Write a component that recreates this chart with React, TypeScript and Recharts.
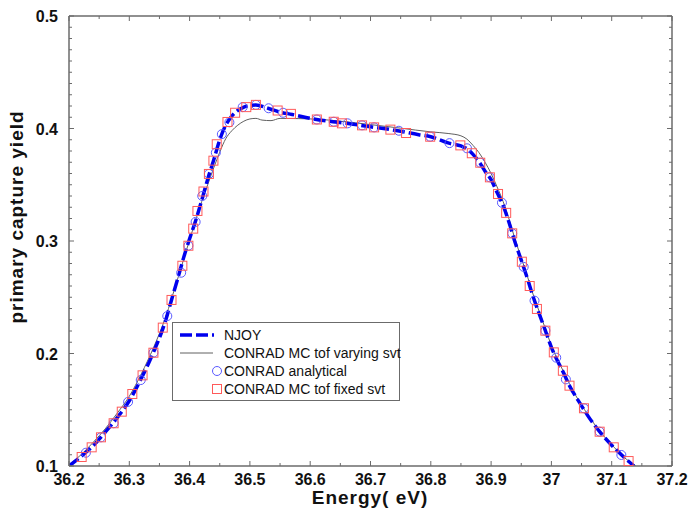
import {
  ComposedChart,
  Line,
  Scatter,
  XAxis,
  YAxis,
} from 'recharts';

// NJOY reference curve
const njoyEnergy = [
  36.2, 36.22, 36.24, 36.26, 36.28, 36.3, 36.32, 36.34, 36.36, 36.37, 36.38, 36.39, 36.4, 36.41,
  36.42, 36.43, 36.44, 36.45, 36.46, 36.47, 36.48, 36.49, 36.5, 36.51, 36.53, 36.55, 36.57, 36.6,
  36.63, 36.66, 36.7, 36.74, 36.78, 36.8, 36.83, 36.85, 36.86, 36.87, 36.88, 36.89, 36.9, 36.91,
  36.92, 36.93, 36.94, 36.95, 36.96, 36.97, 36.98, 36.99, 37.0, 37.01, 37.02, 37.03, 37.04, 37.05,
  37.06, 37.08, 37.1, 37.12, 37.137,
];
const njoyYield = [
  0.1, 0.1085, 0.118, 0.13, 0.143, 0.158, 0.178, 0.201, 0.229, 0.2476, 0.266, 0.285, 0.302, 0.318,
  0.336, 0.355, 0.372, 0.39, 0.403, 0.411, 0.416, 0.419, 0.4205, 0.421, 0.418, 0.4145, 0.4125, 0.409,
  0.4065, 0.4047, 0.4015, 0.3985, 0.3945, 0.3927, 0.387, 0.3845, 0.382, 0.377, 0.3705, 0.362, 0.3545, 0.343,
  0.3315, 0.316, 0.2985, 0.283, 0.267, 0.25, 0.235, 0.2203, 0.2055, 0.1935, 0.183, 0.1714, 0.162, 0.1535,
  0.145, 0.1305, 0.1185, 0.108, 0.1,
];

// CONRAD MC tof, varying svt (thin gray)
const varyEnergy = [
  36.2, 36.22, 36.24, 36.26, 36.28, 36.3, 36.32, 36.34, 36.36, 36.38, 36.4, 36.42, 36.43, 36.44,
  36.45, 36.46, 36.47, 36.48, 36.49, 36.5, 36.51, 36.52, 36.535, 36.55, 36.58, 36.61, 36.65, 36.7,
  36.75, 36.8, 36.83, 36.85, 36.86, 36.87, 36.88, 36.89, 36.9, 36.91, 36.92, 36.93, 36.94, 36.95,
  36.96, 36.97, 36.98, 36.99, 37.0, 37.02, 37.04, 37.06, 37.08, 37.1, 37.12, 37.14,
];
const varyYield = [
  0.101, 0.11, 0.121, 0.133, 0.147, 0.162, 0.182, 0.205, 0.232, 0.266, 0.301, 0.335, 0.35, 0.365,
  0.379, 0.391, 0.398, 0.403, 0.4065, 0.4085, 0.409, 0.4075, 0.407, 0.409, 0.4088, 0.4083, 0.4065, 0.4035,
  0.4003, 0.397, 0.3955, 0.3935, 0.3905, 0.385, 0.3785, 0.37, 0.36, 0.348, 0.335, 0.319, 0.301, 0.285,
  0.269, 0.252, 0.237, 0.222, 0.207, 0.184, 0.163, 0.146, 0.131, 0.119, 0.108, 0.1,
];

// CONRAD analytical (blue circles)
const analyticEnergy = [
  36.228, 36.253, 36.274, 36.298, 36.319, 36.34, 36.363, 36.386, 36.398, 36.41, 36.421, 36.432,
  36.4435, 36.4535, 36.466, 36.488, 36.51, 36.531, 36.555, 36.611, 36.639, 36.662, 36.686, 36.706,
  36.747, 36.799, 36.831, 36.86, 36.882, 36.898, 36.918, 36.935, 36.954, 36.972, 36.99, 37.008,
  37.024, 37.054, 37.08, 37.116,
];
const analyticYield = [
  0.1118, 0.1255, 0.138, 0.157, 0.1764, 0.2007, 0.2333, 0.2718, 0.2958, 0.317, 0.34, 0.3596,
  0.3785, 0.395, 0.4055, 0.419, 0.421, 0.418, 0.414, 0.408, 0.406, 0.4046, 0.4028, 0.401,
  0.398, 0.3927, 0.387, 0.3824, 0.3696, 0.3566, 0.334, 0.3068, 0.277, 0.247, 0.2203, 0.1963,
  0.177, 0.1513, 0.1305, 0.1098,
];

// CONRAD MC tof, fixed svt (red squares)
const fixedEnergy = [
  36.221, 36.2376, 36.253, 36.274, 36.2875, 36.305, 36.322, 36.34, 36.3555, 36.37, 36.388, 36.398,
  36.406, 36.413, 36.423, 36.432, 36.4395, 36.445, 36.4628, 36.4755, 36.494, 36.51, 36.546, 36.568,
  36.611, 36.639, 36.6526, 36.686, 36.706, 36.733, 36.759, 36.799, 36.849, 36.868, 36.882, 36.898,
  36.9115, 36.925, 36.935, 36.951, 36.964, 36.976, 36.99, 37.004, 37.019, 37.03, 37.054, 37.08,
  37.1034, 37.128,
];
const fixedYield = [
  0.108, 0.1166, 0.1255, 0.138, 0.1483, 0.164, 0.1806, 0.2007, 0.223, 0.2476, 0.278, 0.2958,
  0.311, 0.3267, 0.344, 0.3596, 0.3714, 0.386, 0.4058, 0.414, 0.419, 0.421, 0.416, 0.413,
  0.408, 0.406, 0.4046, 0.4028, 0.401, 0.399, 0.396, 0.3927, 0.385, 0.378, 0.3696, 0.3566,
  0.3418, 0.325, 0.3068, 0.2816, 0.26, 0.2396, 0.2203, 0.201, 0.1847, 0.1714, 0.1513, 0.1305,
  0.1166, 0.1044,
];

const xMajorTicks = [36.2, 36.3, 36.4, 36.5, 36.6, 36.7, 36.8, 36.9, 37, 37.1, 37.2];
const yMajorTicks = [0.1, 0.2, 0.3, 0.4, 0.5];

const zip = (xs: number[], ys: number[]) => xs.map((e, i) => ({ e, v: ys[i] }));
const njoy = zip(njoyEnergy, njoyYield);
const vary = zip(varyEnergy, varyYield);
const analytic = zip(analyticEnergy, analyticYield);
const fixed = zip(fixedEnergy, fixedYield);

// minor ticks: 0.05 eV on x, 0.01 on y
const xTicks: number[] = [];
for (let i = 0; i <= 20; i++) xTicks.push(Math.round((36.2 + i * 0.05) * 1000) / 1000);
const yTicks: number[] = [];
for (let i = 0; i <= 40; i++) yTicks.push(Math.round((0.1 + i * 0.01) * 1000) / 1000);

const isMajor = (v: number, list: number[]) => list.some((m) => Math.abs(m - v) < 1e-6);

const FONT = '"Liberation Sans", Arial, Helvetica, sans-serif';
const AXIS = '#6b6b6b';
const BLUE = '#0000ee';
const GRAY = '#606060';
const CIRCLE = '#5a5aff';
const SQUARE = '#ff5a5a';

const fmtX = (v: number) => String(Number(v.toFixed(2)));

function BottomTick({ x, y, payload }: any) {
  const major = isMajor(payload.value, xMajorTicks);
  return (
    <g>
      <line x1={x} x2={x} y1={y} y2={y - (major ? 5 : 3)} stroke={AXIS} strokeWidth={1} />
      {major && (
        <text x={x} y={y + 19} textAnchor="middle" fontFamily={FONT} fontWeight="bold" fontSize={16} fill="#111">
          {fmtX(payload.value)}
        </text>
      )}
    </g>
  );
}

function TopTick({ x, y, payload }: any) {
  const major = isMajor(payload.value, xMajorTicks);
  return <line x1={x} x2={x} y1={y} y2={y + (major ? 5 : 3)} stroke={AXIS} strokeWidth={1} />;
}

function LeftTick({ x, y, payload }: any) {
  const major = isMajor(payload.value, yMajorTicks);
  return (
    <g>
      <line x1={x} x2={x + (major ? 5 : 3)} y1={y} y2={y} stroke={AXIS} strokeWidth={1} />
      {major && (
        <text x={x - 11} y={y + 6} textAnchor="end" fontFamily={FONT} fontWeight="bold" fontSize={16} fill="#111">
          {payload.value.toFixed(1)}
        </text>
      )}
    </g>
  );
}

function RightTick({ x, y, payload }: any) {
  const major = isMajor(payload.value, yMajorTicks);
  return <line x1={x} x2={x - (major ? 5 : 3)} y1={y} y2={y} stroke={AXIS} strokeWidth={1} />;
}

const OpenCircle = (p: any) => (
  <circle cx={p.cx} cy={p.cy} r={4.5} fill="none" stroke={CIRCLE} strokeWidth={1} />
);
const OpenSquare = (p: any) => (
  <rect x={p.cx - 4.5} y={p.cy - 4.5} width={9} height={9} fill="none" stroke={SQUARE} strokeWidth={1} />
);

const legendRows = [
  { label: 'NJOY', kind: 'dash' },
  { label: 'CONRAD MC tof varying svt', kind: 'line' },
  { label: 'CONRAD analytical', kind: 'circle' },
  { label: 'CONRAD MC tof fixed svt', kind: 'square' },
];

const titleStyle = {
  position: 'absolute' as const,
  fontWeight: 'bold' as const,
  fontSize: 19,
  letterSpacing: 1,
  color: '#111',
  whiteSpace: 'nowrap' as const,
};

export default function App() {
  return (
    <div style={{ position: 'absolute', left: 0, top: 0, width: 690, height: 513, background: '#fff', fontFamily: FONT }}>
      <ComposedChart width={690} height={513} margin={{ top: 6, right: 8, bottom: 0, left: 0 }}>
        <XAxis
          xAxisId="b"
          dataKey="e"
          type="number"
          domain={[36.2, 37.2]}
          ticks={xTicks}
          interval={0}
          height={47}
          tickSize={0}
          tickMargin={0}
          tickLine={false}
          tick={<BottomTick />}
          axisLine={{ stroke: AXIS, strokeWidth: 1.5 }}
          allowDataOverflow
        />
        <XAxis
          xAxisId="t"
          orientation="top"
          dataKey="e"
          type="number"
          domain={[36.2, 37.2]}
          ticks={xTicks}
          interval={0}
          height={10}
          tickSize={0}
          tickMargin={0}
          tickLine={false}
          tick={<TopTick />}
          axisLine={{ stroke: AXIS, strokeWidth: 1.5 }}
          allowDataOverflow
        />
        <YAxis
          yAxisId="l"
          dataKey="v"
          type="number"
          domain={[0.1, 0.5]}
          ticks={yTicks}
          interval={0}
          width={69}
          tickSize={0}
          tickMargin={0}
          tickLine={false}
          tick={<LeftTick />}
          axisLine={{ stroke: AXIS, strokeWidth: 1.5 }}
          allowDataOverflow
        />
        <YAxis
          yAxisId="r"
          orientation="right"
          dataKey="v"
          type="number"
          domain={[0.1, 0.5]}
          ticks={yTicks}
          interval={0}
          width={10}
          tickSize={0}
          tickMargin={0}
          tickLine={false}
          tick={<RightTick />}
          axisLine={{ stroke: AXIS, strokeWidth: 1.5 }}
          allowDataOverflow
        />
        <Line
          xAxisId="b"
          yAxisId="l"
          data={vary}
          dataKey="v"
          type="monotone"
          stroke={GRAY}
          strokeWidth={1}
          dot={false}
          activeDot={false}
          isAnimationActive={false}
        />
        <Scatter
          xAxisId="b"
          yAxisId="l"
          data={analytic}
          dataKey="v"
          shape={OpenCircle}
          isAnimationActive={false}
        />
        <Scatter
          xAxisId="b"
          yAxisId="l"
          data={fixed}
          dataKey="v"
          shape={OpenSquare}
          isAnimationActive={false}
        />
        <Line
          xAxisId="b"
          yAxisId="l"
          data={njoy}
          dataKey="v"
          type="monotone"
          stroke={BLUE}
          strokeWidth={3.5}
          strokeDasharray="12 4"
          dot={false}
          activeDot={false}
          isAnimationActive={false}
        />
      </ComposedChart>

      <div style={{ ...titleStyle, left: 270, width: 200, top: 487, textAlign: 'center' }}>Energy( eV)</div>
      <div style={{ ...titleStyle, left: 17, top: 217, transform: 'translate(-50%, -50%) rotate(-90deg)' }}>
        primary capture yield
      </div>

      <div
        style={{
          position: 'absolute',
          left: 172,
          top: 322,
          width: 228,
          height: 79,
          boxSizing: 'border-box',
          border: `1px solid ${AXIS}`,
          background: '#fff',
        }}
      >
        {legendRows.map((r, i) => (
          <div key={r.label} style={{ position: 'absolute', left: 0, top: 3 + i * 18, height: 18, width: 228 }}>
            <svg width={50} height={18} style={{ position: 'absolute', left: 0, top: 0 }}>
              {r.kind === 'dash' && (
                <line x1={7} x2={41} y1={9} y2={9} stroke={BLUE} strokeWidth={3.5} strokeDasharray="12 4" />
              )}
              {r.kind === 'line' && <line x1={7} x2={40} y1={9} y2={9} stroke={GRAY} strokeWidth={1} />}
              {r.kind === 'circle' && <circle cx={44} cy={9} r={4.5} fill="none" stroke={CIRCLE} strokeWidth={1} />}
              {r.kind === 'square' && (
                <rect x={39.5} y={4.5} width={9} height={9} fill="none" stroke={SQUARE} strokeWidth={1} />
              )}
            </svg>
            <span
              style={{
                position: 'absolute',
                left: 51,
                top: 0,
                lineHeight: '18px',
                fontSize: 14,
                color: '#111',
                whiteSpace: 'nowrap',
              }}
            >
              {r.label}
            </span>
          </div>
        ))}
      </div>
    </div>
  );
}
